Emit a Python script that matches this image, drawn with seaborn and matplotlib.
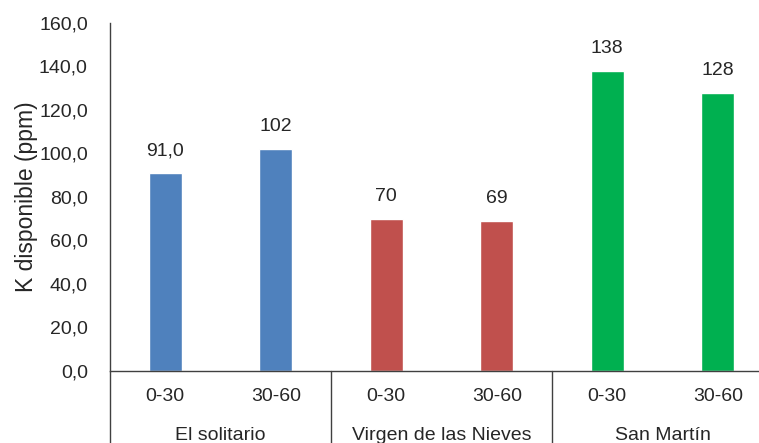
import pandas as pd
import matplotlib
matplotlib.use("Agg")
import matplotlib.pyplot as plt
import matplotlib.transforms as mtransforms
import seaborn as sns

sites = ["El solitario", "El solitario", "Virgen de las Nieves", "Virgen de las Nieves", "San Martín", "San Martín"]
depths = ["0-30", "30-60", "0-30", "30-60", "0-30", "30-60"]
values = [91.0, 102, 70, 69, 138, 128]
value_labels = ["91,0", "102", "70", "69", "138", "128"]
site_order = ["El solitario", "Virgen de las Nieves", "San Martín"]
site_colors = ["#4F81BD", "#C0504D", "#00B050"]
y_ticks = [0, 20, 40, 60, 80, 100, 120, 140, 160]

df = pd.DataFrame({"site": sites, "depth": depths, "value": values})
df["key"] = df["site"] + "|" + df["depth"]

sns.set_style("white")
plt.rcParams["font.family"] = ["Liberation Sans", "DejaVu Sans"]

fig = plt.figure(figsize=(7.59, 4.43), dpi=100)
ax = fig.add_axes([110 / 759, 72 / 443, 663 / 759, 348 / 443])

sns.barplot(data=df, x="key", y="value", hue="site", hue_order=site_order,
            palette=site_colors, dodge=False, width=0.30, legend=False,
            saturation=1, ax=ax)

ax.set_xlim(-0.5, 5.5)
ax.set_ylim(0, 160)
ax.set_yticks(y_ticks)
ax.set_yticklabels([f"{t:.1f}".replace(".", ",") for t in y_ticks], fontsize=14, color="#262626")
ax.set_xticks(range(len(depths)))
ax.set_xticklabels(depths, fontsize=14, color="#262626")
ax.tick_params(axis="x", length=0, pad=12)
ax.tick_params(axis="y", length=0, pad=16)
ax.set_xlabel("")
ax.set_ylabel("K disponible (ppm)", fontsize=16.5, color="#262626", labelpad=1)

for s in ["top", "right"]:
    ax.spines[s].set_visible(False)
ax.spines["left"].set_color("#404040")
ax.spines["bottom"].set_color("#404040")
ax.spines["left"].set_linewidth(1.0)
ax.spines["bottom"].set_linewidth(1.0)

for i, lab in enumerate(value_labels):
    ax.annotate(lab, (i, values[i]), xytext=(0, 16), textcoords="offset points",
                ha="center", va="center", fontsize=14, color="#262626")

trans = mtransforms.blended_transform_factory(ax.transData, ax.transAxes)
for xs in [-0.5, 1.5, 3.5]:
    ax.plot([xs, xs], [0, -0.25], transform=trans, color="#404040", lw=1.0, clip_on=False)

for g, name in enumerate(site_order):
    ax.text(2 * g + 0.5, -64 / 348, name, transform=trans, ha="center", va="center",
            fontsize=14, color="#262626")

fig.savefig("out.png", dpi=100)
